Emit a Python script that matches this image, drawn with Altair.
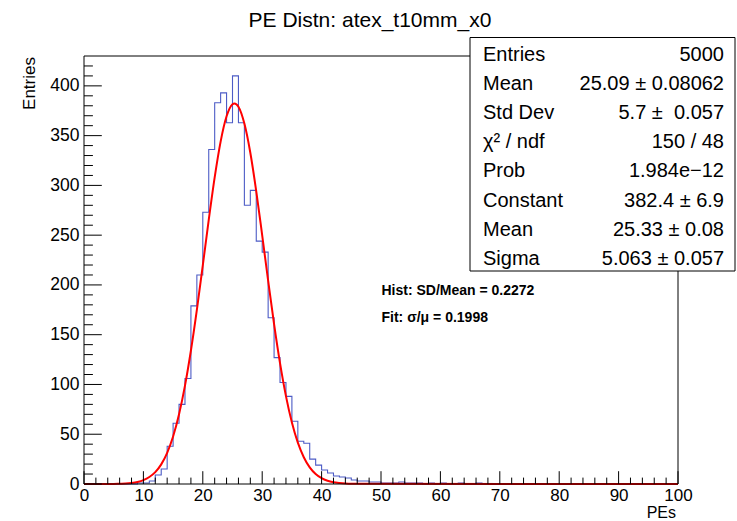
import altair as alt
import pandas as pd

# ---------------- data ----------------
bin_edges = list(range(0, 101))
counts = [
    0, 0, 0, 0, 0, 0, 0, 0, 0, 1,
    1, 3, 9, 15, 38, 61, 80, 106, 179, 210,
    273, 336, 383, 393, 363, 410, 363, 280, 295, 244,
    233, 167, 127, 102, 88, 63, 43, 41, 25, 19,
    14, 11, 8, 7, 6, 4, 3, 3, 2, 2,
    1, 1, 1, 2, 1, 1, 1, 0, 1, 0,
    1, 0, 0, 1, 0, 0, 1, 0, 0, 0,
    0, 0, 0, 0, 0, 0, 0, 0, 0, 0,
    0, 0, 0, 0, 0, 0, 0, 0, 0, 0,
    0, 0, 0, 0, 0, 0, 0, 0, 0, 0,
]

fit_x = [0, 5, 6, 7, 8, 9, 10, 11, 12, 13, 14, 15, 16, 17, 18, 19, 20, 21, 22, 23,
         24, 25, 25.33, 26, 27, 28, 29, 30, 31, 32, 33, 34, 35, 36, 37, 38, 39, 40,
         41, 42, 43, 44, 45, 100]
fit_y = [0, 0.1, 0.3, 0.5, 1.1, 2.1, 3.9, 7.0, 11.9, 19.7, 31.3, 47.7, 70.0, 98.8,
         134.1, 175.0, 219.7, 265.3, 308.0, 344.0, 369.4, 381.6, 382.4, 379.1, 362.1,
         332.8, 294.1, 249.9, 204.3, 160.6, 121.4, 88.3, 61.7, 41.5, 26.9, 16.7, 10.0,
         5.8, 3.2, 1.7, 0.9, 0.4, 0.2, 0]

x_major = [0, 10, 20, 30, 40, 50, 60, 70, 80, 90, 100]
x_minor = [2, 4, 6, 8, 12, 14, 16, 18, 22, 24, 26, 28, 32, 34, 36, 38, 42, 44, 46, 48,
           52, 54, 56, 58, 62, 64, 66, 68, 72, 74, 76, 78, 82, 84, 86, 88, 92, 94, 96, 98]
y_major = [0, 50, 100, 150, 200, 250, 300, 350, 400]
y_minor = [10, 20, 30, 40, 60, 70, 80, 90, 110, 120, 130, 140, 160, 170, 180, 190,
           210, 220, 230, 240, 260, 270, 280, 290, 310, 320, 330, 340, 360, 370, 380,
           390, 410, 420]

title_text = "PE Distn: atex_t10mm_x0"
x_title = "PEs"
y_title = "Entries"
stat_labels = ["Entries", "Mean", "Std Dev", "χ² / ndf", "Prob", "Constant", "Mean", "Sigma"]
stat_values = ["5000", "25.09 ± 0.08062", "5.7 ±\u00a0 0.057", "150 / 48", "1.984e−12",
               "382.4 ± 6.9", "25.33 ± 0.08", "5.063 ± 0.057"]
notes = ["Hist: SD/Mean = 0.2272", "Fit: σ/μ = 0.1998"]

# ---------------- layout ----------------
W, H = 594, 428
PAD_L, PAD_T = 84, 56
FONT = "Liberation Sans"

hist_df = pd.DataFrame({"pe": bin_edges, "n": counts + [counts[-1]]})
fit_df = pd.DataFrame({"pe": fit_x, "n": fit_y})
one = pd.DataFrame({"k": [0]})

xscale = alt.Scale(domain=[0, 100], nice=False, zero=False)
yscale = alt.Scale(domain=[0, 430], nice=False)
xaxis = alt.Axis(values=x_major, labelFontSize=17, labelPadding=3, ticks=False,
                 domain=False, grid=False, labelFont=FONT, labelColor="black",
                 labelFlush=False, labelOverlap=False, title="")
yaxis = alt.Axis(values=y_major, labelFontSize=17.5, labelPadding=5, ticks=False,
                 domain=False, grid=False, labelFont=FONT, labelColor="black",
                 labelFlush=False, labelOverlap=False, title="")
x_enc = alt.X("pe:Q", scale=xscale, axis=xaxis, title="")
y_enc = alt.Y("n:Q", scale=yscale, axis=yaxis, title="")

hist = alt.Chart(hist_df).mark_line(interpolate="step-after", color="#4d5cc6",
                                    strokeWidth=1.1).encode(x=x_enc, y=y_enc)
fit = alt.Chart(fit_df).mark_line(interpolate="monotone", color="#ff0000",
                                  strokeWidth=2).encode(x=x_enc, y=y_enc)

xt_major = alt.Chart(pd.DataFrame({"pe": x_major})).mark_rule(color="black", strokeWidth=1).encode(
    x=x_enc, y=alt.value(H), y2=alt.value(H - 12.8))
xt_minor = alt.Chart(pd.DataFrame({"pe": x_minor})).mark_rule(color="black", strokeWidth=1).encode(
    x=x_enc, y=alt.value(H), y2=alt.value(H - 6.4))
yt_major = alt.Chart(pd.DataFrame({"n": y_major})).mark_rule(color="black", strokeWidth=1).encode(
    y=y_enc, x=alt.value(0), x2=alt.value(17.8))
yt_minor = alt.Chart(pd.DataFrame({"n": y_minor})).mark_rule(color="black", strokeWidth=1).encode(
    y=y_enc, x=alt.value(0), x2=alt.value(8.9))

frame = alt.Chart(one).mark_rect(filled=False, stroke="black", strokeWidth=1).encode(
    x=alt.value(0), x2=alt.value(W), y=alt.value(0), y2=alt.value(H))

box = alt.Chart(one).mark_rect(fill="white", stroke="black", strokeWidth=1).encode(
    x=alt.value(470 - PAD_L), x2=alt.value(735 - PAD_L),
    y=alt.value(37.5 - PAD_T), y2=alt.value(271 - PAD_T))

layers = [hist, fit, xt_major, xt_minor, yt_major, yt_minor, frame, box]

for i, (lab, val) in enumerate(zip(stat_labels, stat_values)):
    yc = 54.5 + 29.2 * i - PAD_T
    layers.append(alt.Chart(one).mark_text(text=lab, align="left", baseline="middle",
                                           font=FONT, fontSize=20, color="black").encode(
        x=alt.value(483 - PAD_L), y=alt.value(yc)))
    layers.append(alt.Chart(one).mark_text(text=val, align="right", baseline="middle",
                                           font=FONT, fontSize=20, color="black").encode(
        x=alt.value(724 - PAD_L), y=alt.value(yc)))

for i, t in enumerate(notes):
    layers.append(alt.Chart(one).mark_text(text=t, align="left", baseline="middle",
                                           font=FONT, fontSize=14, fontWeight="bold",
                                           color="black").encode(
        x=alt.value(381.5 - PAD_L), y=alt.value(291 + 26.7 * i - PAD_T)))

layers.append(alt.Chart(one).mark_text(text=title_text, align="center", baseline="middle",
                                       font=FONT, fontSize=21, color="black").encode(
    x=alt.value(370 - PAD_L), y=alt.value(21 - PAD_T)))
layers.append(alt.Chart(one).mark_text(text=x_title, align="right", baseline="middle",
                                       font=FONT, fontSize=16, color="black").encode(
    x=alt.value(W - 2), y=alt.value(512.5 - PAD_T)))
layers.append(alt.Chart(one).mark_text(text=y_title, align="right", baseline="middle",
                                       angle=270, font=FONT, fontSize=17, color="black").encode(
    x=alt.value(30 - PAD_L), y=alt.value(57 - PAD_T)))

chart = alt.layer(*layers).properties(
    width=W, height=H,
    padding={"left": PAD_L, "top": PAD_T, "right": 737 - PAD_L - W, "bottom": 521 - PAD_T - H},
    autosize=alt.AutoSizeParams(type="none"),
    background="white",
).configure_view(stroke="transparent")

chart.save("out.html", embed_options={"renderer": "svg", "actions": False})
